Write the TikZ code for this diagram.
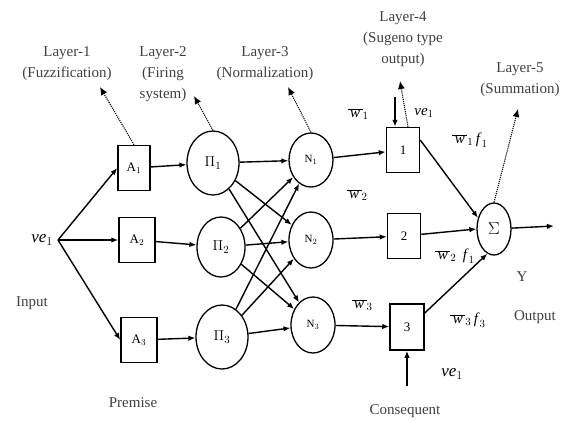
\documentclass[tikz,border=0pt]{standalone}
\usepackage{fontspec}
\setmainfont{Liberation Serif}
\usetikzlibrary{arrows.meta,shapes.geometric,calc}
\newcommand\itv[1]{\mbox{\textit{#1}}}
\newcommand\wbar[1]{\overline{\mbox{\,\textit{w}\,}}_{#1}}
\begin{document}
\begin{tikzpicture}[x=1pt,y=-1pt,
  conn/.style={line width=1.4pt,-{Latex[length=7pt,width=5.5pt]}},
  hint/.style={densely dotted,line width=1.1pt,-{Latex[length=8pt,width=7pt]}},
  boxnode/.style={draw,line width=1.5pt,minimum width=33pt,minimum height=45pt,inner sep=0pt,font=\fontsize{13}{15}\selectfont},
  prodnode/.style={draw,ellipse,line width=1.3pt,minimum width=52pt,minimum height=64pt,inner sep=0pt,font=\fontsize{15}{17}\selectfont},
  normnode/.style={draw,ellipse,line width=1.3pt,minimum width=44pt,minimum height=54pt,inner sep=0pt,font=\fontsize{11}{13}\selectfont},
  caption/.style={align=center,font=\fontsize{15}{21}\selectfont,color=black!75},
  mathlbl/.style={font=\fontsize{15}{17}\selectfont}]

\path[use as bounding box,fill=white] (0,0) rectangle (571,421);

% input
\node[mathlbl,font=\fontsize{17}{19}\selectfont] (in) at (42,240) {$\itv{ve}_1$};
\coordinate (src) at (58,240);

% layer 1: membership boxes
\node[boxnode,minimum width=32pt] (A1) at (134,168) {A$_1$};
\node[boxnode,minimum width=36pt] (A2) at (137,240) {A$_2$};
\node[boxnode,minimum width=36pt] (A3) at (139,340) {A$_3$};

% layer 2: firing strength
\node[prodnode] (P1) at (213,163) {$\Pi_1$};
\node[prodnode,minimum width=48pt,minimum height=60pt] (P2) at (221,247) {$\Pi_2$};
\node[prodnode] (P3) at (222,337) {$\Pi_3$};

% layer 3: normalisation
\node[normnode] (N1) at (311,160) {N$_1$};
\node[normnode,minimum height=56pt] (N2) at (311,240) {N$_2$};
\node[normnode,minimum height=56pt] (N3) at (313,325) {N$_3$};

% layer 4: consequent boxes
\node[boxnode] (B1) at (403,150) {1};
\node[boxnode] (B2) at (404,236) {2};
\node[boxnode,minimum width=34pt,minimum height=46pt] (B3) at (407,327) {3};

% layer 5: summation
\node[draw,ellipse,line width=1.3pt,minimum width=34pt,minimum height=52pt,inner sep=0pt,font=\fontsize{16}{18}\selectfont] (S) at (494,229) {$\Sigma$};
\coordinate (out) at (554,226);

% connections
\foreach \a in {A1,A2,A3} \draw[conn] (src) -- (\a.west);
\draw[conn] (A1) -- (P1);
\draw[conn] (A2) -- (P2);
\draw[conn] (A3) -- (P3);
\foreach \p in {P1,P2,P3}
  \foreach \n in {N1,N2,N3}
    \draw[conn] (\p) -- (\n);
\draw[conn] (N1) -- (B1);
\draw[conn] (N2) -- (B2);
\draw[conn] (N3) -- (B3);
\draw[conn] (B1.north east |- 0,140) -- (S.145);
\draw[conn] (B2) -- (S.west);
\draw[conn] (B3.north east |- 0,313) -- (S.-105);
\draw[conn] (S) -- (out);

% layer captions
\node[caption] (L1) at (67,64) {Layer-1\\(Fuzzification)};
\node[caption] (L2) at (163,74) {Layer-2\\(Firing\\system)};
\node[caption] (L3) at (265,64) {Layer-3\\(Normalization)};
\node[caption] (L4) at (403,39) {Layer-4\\(Sugeno type\\output)};
\node[caption] (L5) at (520,80) {Layer-5\\(Summation)};

\coordinate (t1) at (100,87);
\coordinate (t2) at (194,96);
\coordinate (t3) at (288,87);
\coordinate (t4) at (400,81);
\coordinate (t5) at (518,109);
\draw[hint] (A1.north) -- (t1);
\draw[hint] (P1.north) -- (t2);
\draw[hint] (N1.north) -- (t3);
\draw[hint] ($(B1.north)+(5,0)$) -- (t4);
\draw[hint] (S.north) -- (t5);

% premise input to layer 4
\coordinate (c1) at (395,97);
\draw[conn] (c1) -- (c1 |- B1.north);
\node[mathlbl] (v1) at (424,113) {$\itv{ve}_1$};

% consequent input
\coordinate (c3) at (407,386);
\draw[conn] (c3) -- (B3.south);
\node[mathlbl,font=\fontsize{17}{19}\selectfont] (v3) at (452,374) {$\itv{ve}_1$};

% weights
\node[mathlbl] (w1) at (358,114) {$\wbar{1}$};
\node[mathlbl] (w2) at (357,195) {$\wbar{2}$};
\node[mathlbl] (w3) at (362,305) {$\wbar{3}$};
\node[mathlbl] (wf1) at (470,140) {$\wbar{1}\, \itv{f}_1$};
\node[mathlbl] (wf2) at (455,256) {$\wbar{2}\;\, \itv{f}_1$};
\node[mathlbl] (wf3) at (468,320) {$\wbar{3}\, \itv{f}_3$};

% side captions
\node[caption] (y) at (522,277) {Y};
\node[caption] (o) at (535,317) {Output};
\node[caption] (ip) at (32,303) {Input};
\node[caption] (pr) at (133,403) {Premise};
\node[caption] (cq) at (405,411) {Consequent};
\end{tikzpicture}
\end{document}
